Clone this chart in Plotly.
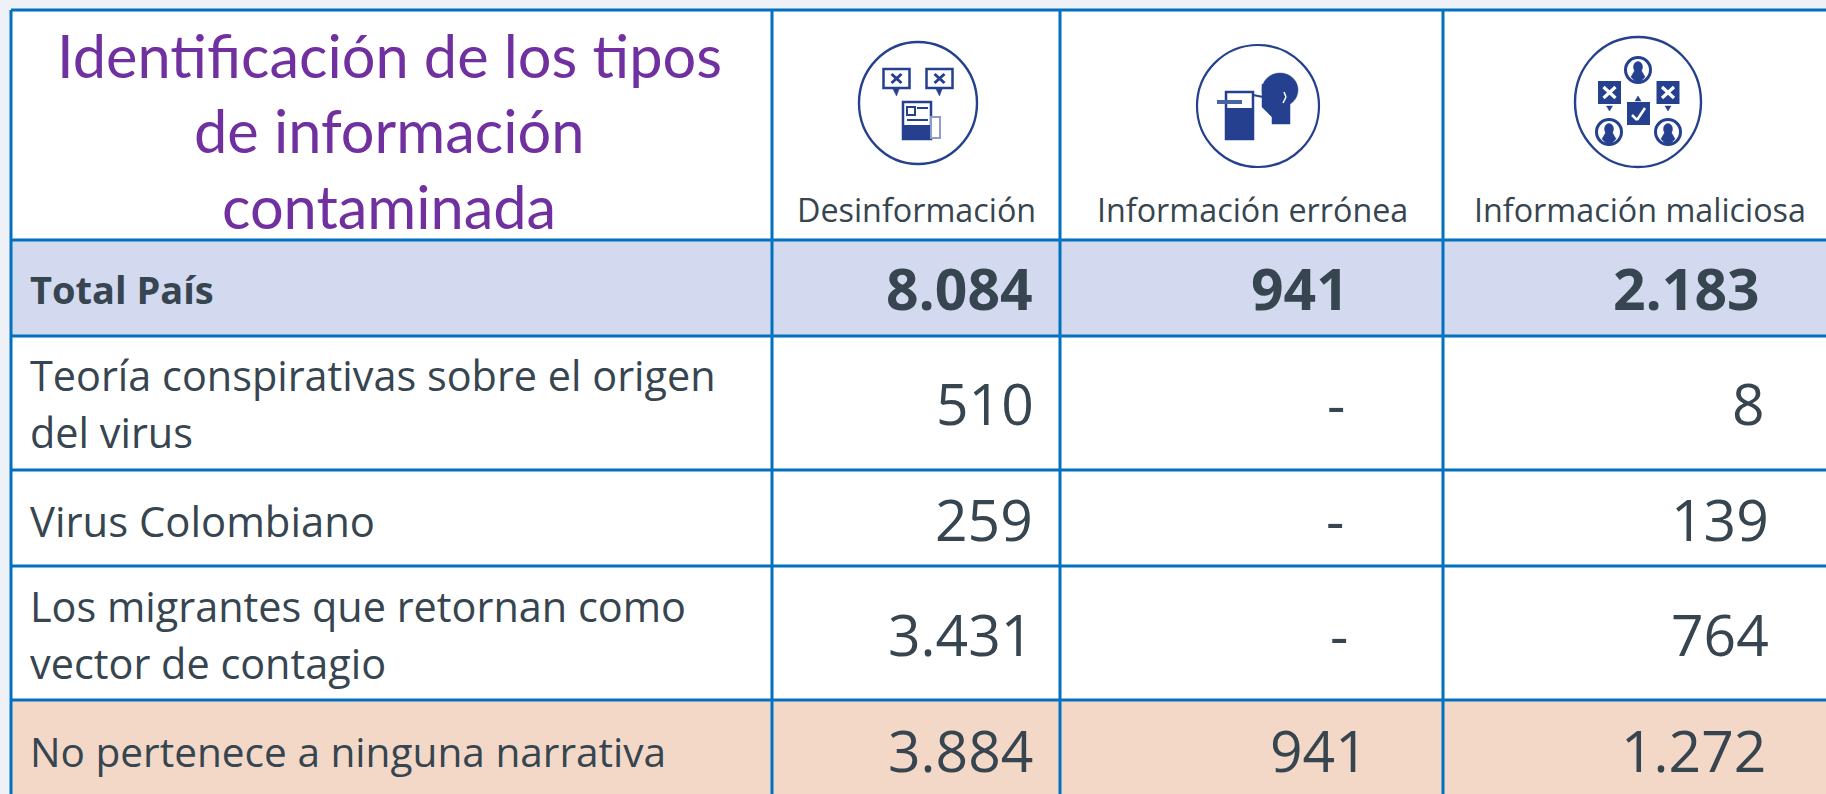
import plotly.graph_objects as go

# ---- data ----
title_lines = ["Identificación de los tipos", "de información", "contaminada"]
columns = ["Desinformación", "Información errónea", "Información maliciosa"]
rows = ["Total País", "Teoría conspirativas sobre el origen<br>del virus", "Virus Colombiano",
        "Los migrantes que retornan como<br>vector de contagio", "No pertenece a ninguna narrativa"]
desinformacion = ["8.084", "510", "259", "3.431", "3.884"]
erronea = ["941", "-", "-", "-", "941"]
maliciosa = ["2.183", "8", "139", "764", "1.272"]
# ---- layout ----
W, H = 1826, 794
BG, LINE = "#eef2f6", "#0070c0"
INK, NAVY, PURPLE = "#36454f", "#24408e", "#7030a0"
vx = [11, 772, 1060, 1443, 1826]
hy = [10, 240, 336, 470, 566, 700, 794]
row_fill = ["#d3d9ee", "#ffffff", "#ffffff", "#ffffff", "#f3d8c7"]
row_size = [38, 41.4, 41.8, 41.4, 40.6]
# right edge of each number, by column then row
num_right = [[1033, 1034, 1033, 1033, 1033],
             [1349, 1349, 1349, 1349, 1368],
             [1760, 1765, 1769, 1769, 1766]]
dash_right = [None, 1345, 1344, 1348, None]

shapes, ann = [], []
def rect(x0, y0, x1, y1, fill, line=None, lw=0):
    shapes.append(dict(type="rect", x0=x0, y0=y0, x1=x1, y1=y1, fillcolor=fill,
                       line=dict(color=line or fill, width=lw), layer="below"))
def seg(x0, y0, x1, y1, color=LINE, w=3):
    shapes.append(dict(type="line", x0=x0, y0=y0, x1=x1, y1=y1, line=dict(color=color, width=w), layer="below"))
def circ(cx, cy, rx, ry, fill="rgba(0,0,0,0)", line=NAVY, lw=2):
    shapes.append(dict(type="circle", x0=cx-rx, x1=cx+rx, y0=cy-ry, y1=cy+ry, fillcolor=fill,
                       line=dict(color=line, width=lw), layer="below"))
def poly(d, fill=NAVY):
    shapes.append(dict(type="path", path=d, fillcolor=fill, line=dict(color=fill, width=0.5), layer="below"))
def text(x, y, s, size, color=INK, anchor="left", bold=False, fam="Open Sans"):
    ann.append(dict(x=x, y=y, text=f"<b>{s}</b>" if bold else s, showarrow=False, xanchor=anchor, yanchor="middle",
                    font=dict(family=fam, size=size, color=color), align=anchor, borderpad=0, borderwidth=0))

rect(vx[0], hy[0], W, H, "#ffffff")
for i, f in enumerate(row_fill):
    rect(vx[0], hy[i+1], W, hy[i+2], f)
for y in hy[:-1]:
    seg(vx[0], y, W, y)
for x in vx[:-1]:
    seg(x, hy[0], x, H)

for s, y in zip(title_lines, [55, 130, 206]):
    text(389, y, s, 59.5, PURPLE, "center", fam="Lato")
for s, cx in zip(columns, [916.5, 1252, 1640]):
    text(cx, 208.5, s, 32.3, INK, "center")

row_y = [289, 404, 520, 635, 751]
for i, (s, y) in enumerate(zip(rows, row_y)):
    if "<br>" in s:
        a, b = s.split("<br>")
        text(30, y-29, a, row_size[i])
        text(30, y+28, b, row_size[i])
    else:
        text(30, y, s, row_size[i], bold=(i == 0))
for j, col in enumerate([desinformacion, erronea, maliciosa]):
    for i, v in enumerate(col):
        x = dash_right[i] if v == "-" else num_right[j][i]
        text(x, row_y[i]-1, v, 57, INK, "right", bold=(i == 0))

# ---- icons ----
# Desinformación
circ(918, 103, 59, 61, lw=2.4)
for bx in (896.5, 939.5):
    rect(bx-13, 69, bx+13, 88, "#ffffff", NAVY, 2.5)
    seg(bx-5, 74, bx+5, 83, NAVY, 3); seg(bx+5, 74, bx-5, 83, NAVY, 3)
    poly(f"M{bx-4},88 L{bx+3},88 L{bx},96 Z")
rect(903, 102, 931, 139, "#ffffff", NAVY, 2.5)
rect(904, 125, 930, 138, NAVY)
rect(907, 107, 915, 115, "#ffffff", NAVY, 2)
seg(917, 108, 928, 108, NAVY, 2); seg(907, 120, 928, 120, NAVY, 2)
rect(931, 117, 940, 138, "#ffffff", "#8d9cc8", 2)
# Información errónea
circ(1258, 106, 61, 61, lw=2.2)
rect(1226, 92, 1253, 139, "#ffffff", NAVY, 2.5)
rect(1226, 108, 1253, 139, NAVY)
seg(1217, 102, 1242, 102, "#4a62a6", 4)
circ(1280, 90, 18, 17, NAVY, NAVY, 0.5)
poly("M1262,84 L1262,107 L1272,117 L1272,124 L1290,124 L1290,100 Z")
seg(1253, 95, 1263, 97, NAVY, 2)
seg(1284, 92, 1286, 97, "#ffffff", 1.5); seg(1286, 97, 1283, 103, "#ffffff", 1.5)
# Información maliciosa
circ(1638, 102, 63, 65, lw=2.4)
def person(x, y):
    circ(x, y, 12.5, 12.5, "#ffffff", NAVY, 3)
    circ(x, y-3, 4.5, 5.5, NAVY, NAVY, 0.5)
    poly(f"M{x-7},{y+7} L{x-3},{y} L{x+3},{y} L{x+7},{y+7} L{x+1},{y+13} L{x-1},{y+13} Z")
person(1638, 70); person(1609, 132); person(1668, 132)
for x in (1609.5, 1668):
    rect(x-11.5, 81, x+11.5, 104, NAVY)
    seg(x-6, 87, x+6, 98, "#ffffff", 3.2); seg(x+6, 87, x-6, 98, "#ffffff", 3.2)
    poly(f"M{x-3},106 L{x+3},106 L{x},111 Z")
poly("M1635,101 L1641,101 L1638,96 Z")
rect(1627, 102, 1650, 125, NAVY)
seg(1632, 115, 1637, 120, "#ffffff", 2.5); seg(1637, 120, 1645, 108, "#ffffff", 2.5)

fig = go.Figure()
fig.update_layout(width=W, height=H, margin=dict(l=0, r=0, t=0, b=0), autosize=False,
                  paper_bgcolor=BG, plot_bgcolor=BG, showlegend=False, shapes=shapes, annotations=ann,
                  xaxis=dict(range=[0, W], visible=False, fixedrange=True),
                  yaxis=dict(range=[H, 0], visible=False, fixedrange=True))
fig.write_html("out.html", config=dict(displayModeBar=False),
               post_script=("document.body.style.margin='0';document.body.style.overflow='hidden';"
                            "var s=document.createElement('style');"
                            "s.textContent='text{font-variant-ligatures:none}';document.head.appendChild(s);"))
